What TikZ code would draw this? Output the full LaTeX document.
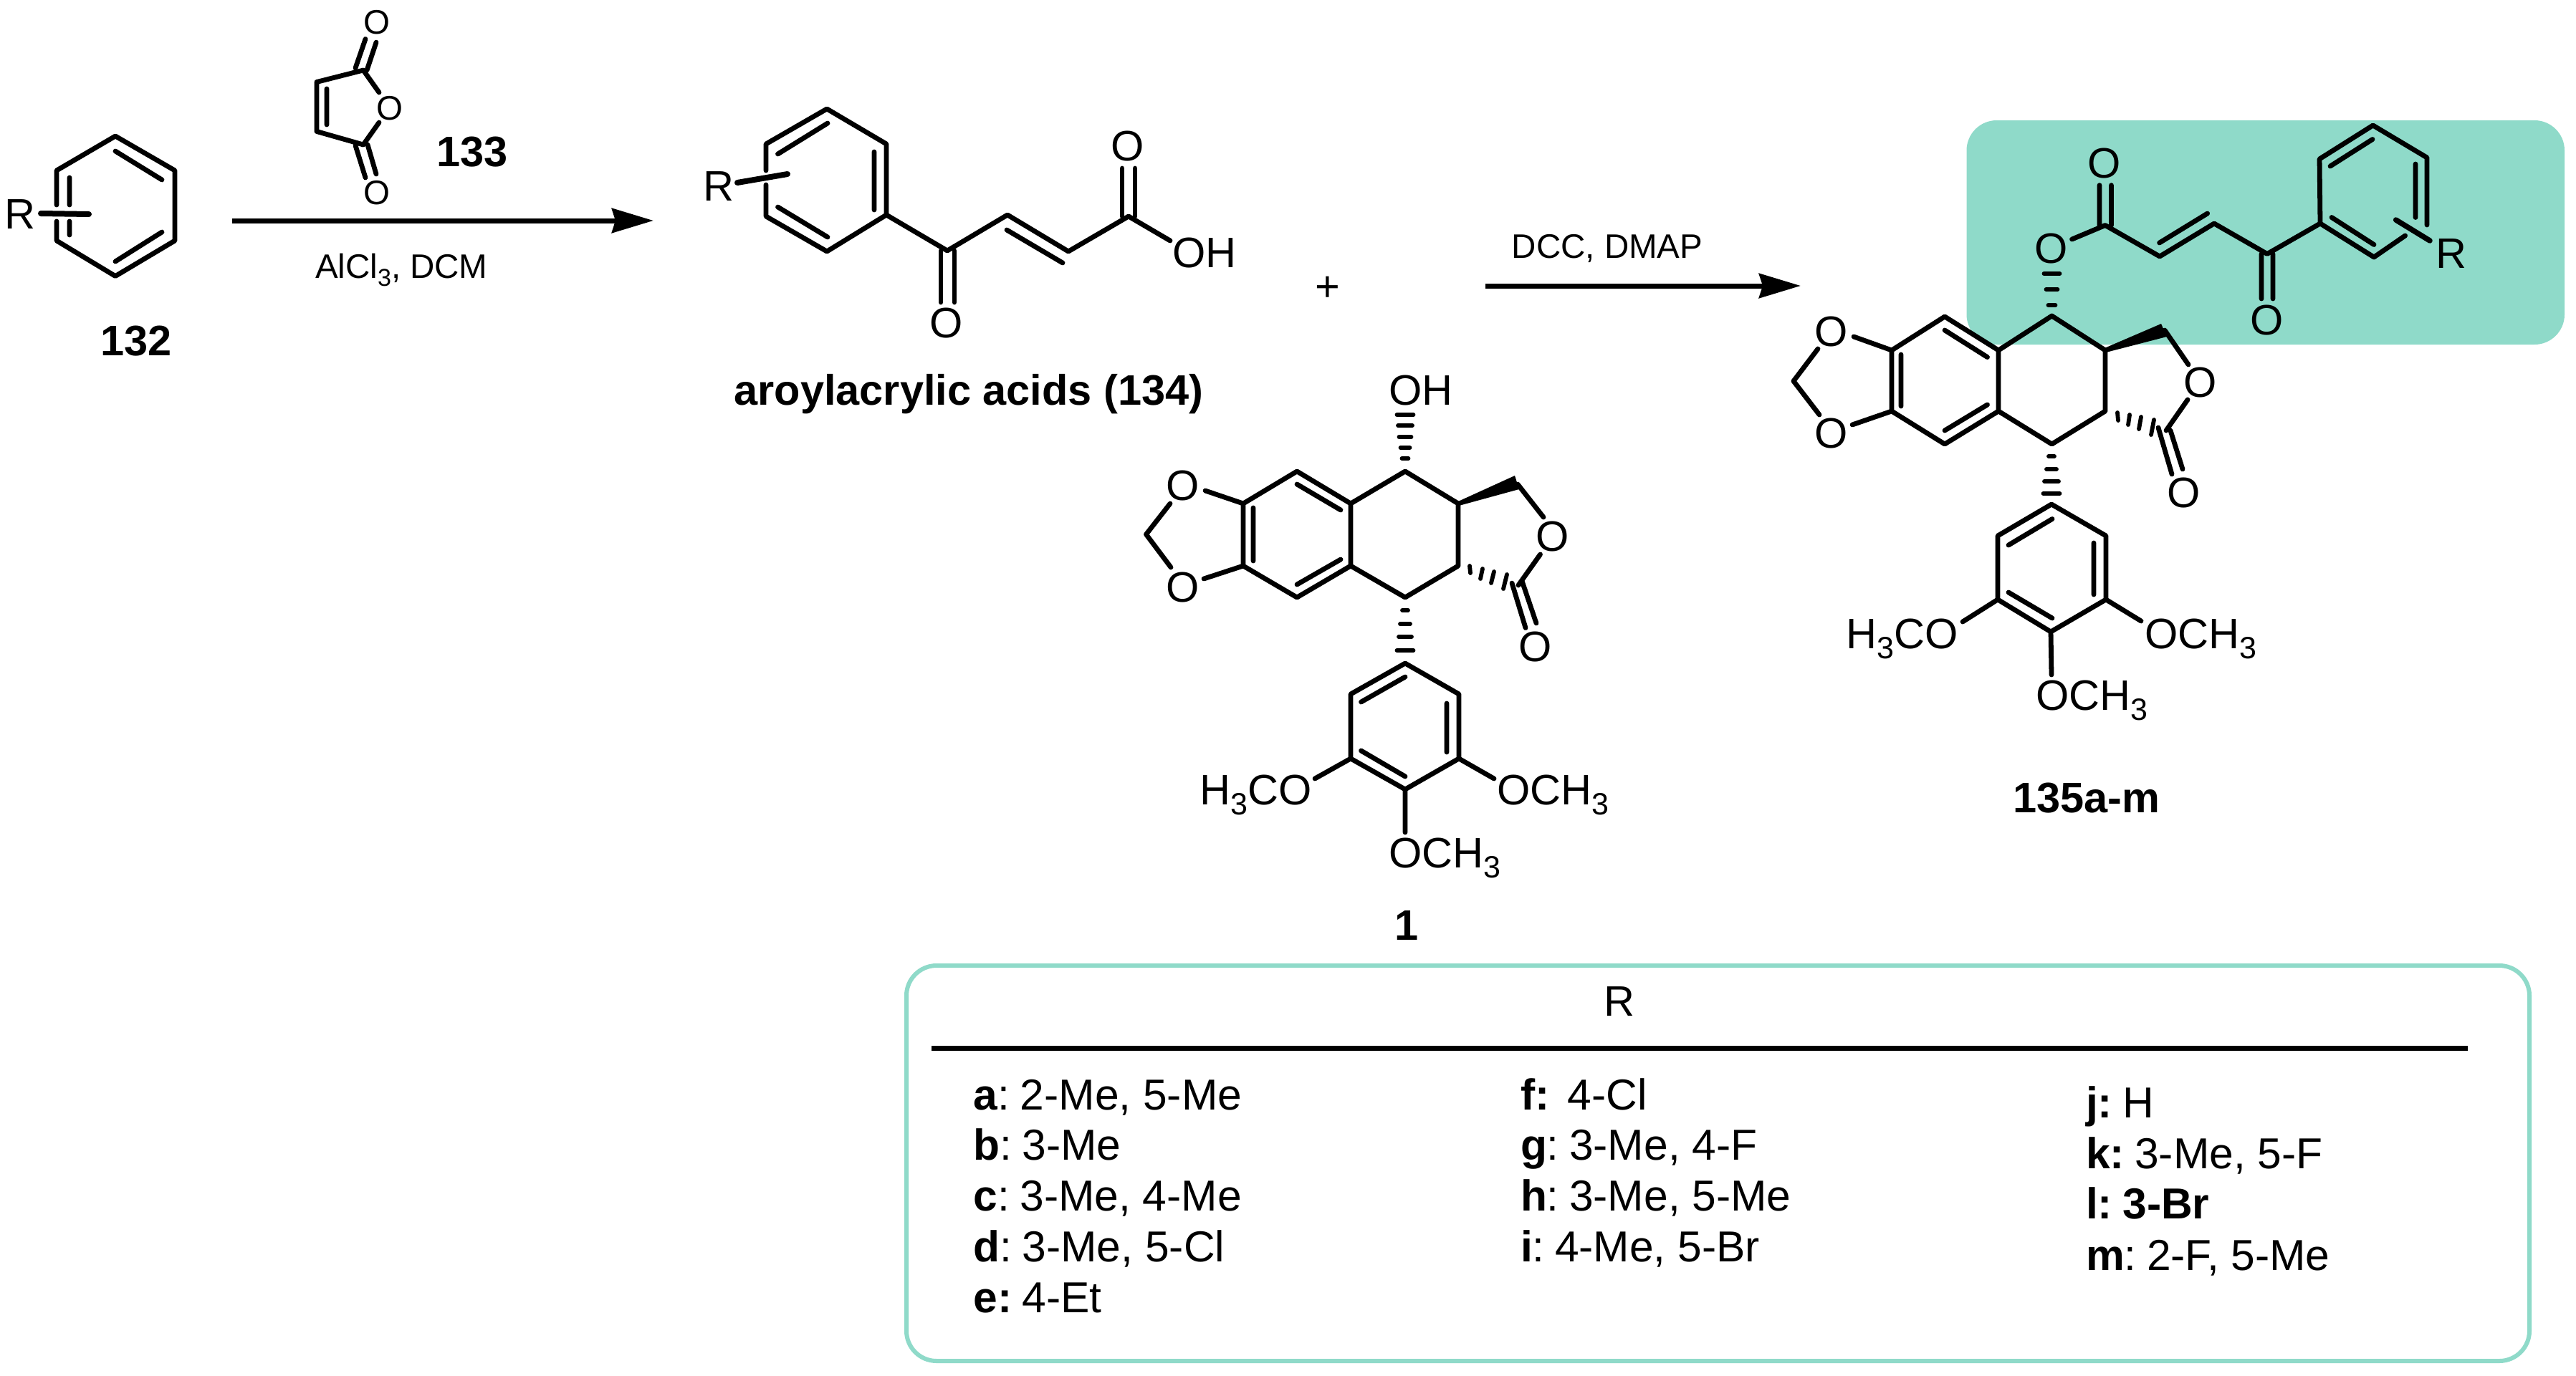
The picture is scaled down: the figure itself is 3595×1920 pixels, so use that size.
\documentclass[tikz,border=0pt]{standalone}
\usepackage{fontspec}
\setmainfont{Liberation Sans}
\usetikzlibrary{arrows.meta}
\definecolor{tealbox}{RGB}{143,218,201}
\newcommand\bigf{\fontsize{59.5}{60}\selectfont}
\newcommand\rowf{\fontsize{60.5}{62}\selectfont}
\newcommand\smallf{\fontsize{47.5}{50}\selectfont}
\newcommand\subB{\raisebox{-14pt}{\fontsize{43}{43}\selectfont 3}}
\newcommand\subS{\raisebox{-11pt}{\fontsize{34}{34}\selectfont 3}}
\newcommand\tg{\kern-8pt\relax}
\newcommand\pts[1]{\foreach \n/\x/\y in {#1}{\coordinate (\n) at (\x,\y);}}
\tikzset{
  bond/.style={line width=6.8pt,line cap=round,line join=round,black},
  hashline/.style={line width=5.8pt,line cap=round,black},
  rxn/.style={line width=7pt,black,-{Stealth[length=58pt,width=34pt,inset=5pt]}},
  lab/.style={inner sep=0pt,outer sep=0pt,font=\bigf,text=black},
  labs/.style={inner sep=0pt,outer sep=0pt,font=\smallf,text=black},
  labb/.style={inner sep=0pt,outer sep=0pt,font=\bigf\bfseries,text=black},
  row/.style={inner sep=0pt,outer sep=0pt,font=\rowf,text=black,anchor=base west},
}
\begin{document}
\begin{tikzpicture}[x=1pt,y=-1pt]
\useasboundingbox (0,0) rectangle (3595,1920);
\fill[white] (0,0) rectangle (3595,1920);
% highlight and table frame
\fill[tealbox,rounded corners=42pt] (2744.5,168) rectangle (3579,481);
\node[draw=tealbox,line width=6pt,rounded corners=42pt,inner sep=0pt,minimum width=2265pt,minimum height=552pt] (frame) at (2397.5,1624) {};

% ---------- 132
\pts{p1/161/190,p2/244/238,p3/244/336,p4/161/385.5,p5/79/336,p6/79/238,pa/79/286,pb/79/309,
 pi1/161/211,pi2/226/251,pi3/161/365,pi4/226/324,pi5/97/248,pi6/97/286,pi7/97/309,pi8/97/328,pr1/57/298,pr2/124/299}
\draw[bond] (pa)--(p6)--(p1)--(p2)--(p3)--(p4)--(p5)--(pb);
\draw[bond] (pi1)--(pi2) (pi3)--(pi4) (pi5)--(pi6) (pi7)--(pi8);
\draw[bond,line width=8pt] (pr1)--(pr2);
\node[lab] (R132) at (28,299) {R};
\node[labb] (n132) at (190,476) {132};

% ---------- 133
\pts{m1/507/98,m2/442/114.5,m3/442/183.5,m4/507/202,mi1/456/124,mi2/456/174,
 mt1/496/95,mt2/510/54.5,mt3/512/98,mt4/525/59,mb1/496/203,mb2/510/248,mb3/513/202,mb4/525/243,mo1/529/129,mo2/529/171}
\draw[bond] (mo1)--(m1)--(m2)--(m3)--(m4)--(mo2);
\draw[bond] (mi1)--(mi2) (mt1)--(mt2) (mt3)--(mt4) (mb1)--(mb2) (mb3)--(mb4);
\node[labs] (m133a) at (526,31) {O};
\node[labs] (m133b) at (544,151) {O};
\node[labs] (m133c) at (526,269) {O};
\node[labb] (n133) at (659,212) {133};

% ---------- arrow 1
\coordinate (A1s) at (324,308); \coordinate (A1e) at (912,308);
\draw[rxn] (A1s)--(A1e);
\node[labs,anchor=base west] (r1) at (440,388) {AlCl\subS, DCM};

% ---------- 134
\pts{a1/1154/152,a2/1237/201,a3/1237/300,a4/1154/351,a5/1069/302,a6/1069/201,a7/1069/238,a8/1069/258,
 ai1/1085.5/215,ai2/1155/172,ai3/1220/212,ai4/1220/293,ai5/1085.5/289,ai6/1155/331,
 ar1/1029/255,ar2/1099/243,c1/1322/350,c2/1406/300,c3/1491/351,c4/1575/302,oh/1633/336,
 ci1/1405/321,ci2/1483/367,co1/1313/350,co2/1313/422,co3/1332/350,co4/1332/422,
 cd1/1566/302,cd2/1566/235,cd3/1584/302,cd4/1584/235}
\draw[bond] (a7)--(a6)--(a1)--(a2)--(a3)--(a4)--(a5)--(a8);
\draw[bond] (ai1)--(ai2) (ai3)--(ai4) (ai5)--(ai6) (ci1)--(ci2);
\draw[bond,line width=8pt] (ar1)--(ar2);
\draw[bond] (a3)--(c1)--(c2)--(c3)--(c4)--(oh);
\draw[bond] (co1)--(co2) (co3)--(co4) (cd1)--(cd2) (cd3)--(cd4);
\node[lab] (R134) at (1003,260) {R};
\node[lab] (O134a) at (1321,451) {O};
\node[lab] (O134b) at (1574,204) {O};
\node[lab,anchor=base west] (OH134) at (1636,373) {OH};
\node[labb,anchor=base] (n134) at (1352,565) {aroylacrylic acids (134)};
\node[lab] (plus) at (1853,403) {+};

% ---------- arrow 2
\coordinate (A2s) at (2073,399); \coordinate (A2e) at (2513,399);
\draw[rxn] (A2s)--(A2e);
\node[labs] (r2) at (2243,347) {DCC, DMAP};

% ---------- 1
\pts{s1/1961/658,s2/2035/703,s3/2035/790,s4/1961/834,s5/1885/790,s6/1885/703,
 s7/1810/658,s8/1735/703,s9/1735/790,s10/1810/834,
 si1/1810/676,si2/1871/712,si3/1749/709,si4/1749/783,si5/1810/816,si6/1871/781,
 so1/1682/685,so2/1680/808,so3/1633/703,so4/1599.5/746,so5/1634/792,
 sc1/2118/676,sc2/2154/722,sc3/2149.5/774,sc4/2119/817,
 sd1/2110/814,sd2/2129/876.5,sd3/2124/811,sd4/2144/870,
 u1/1961/926,u2/2036/969,u3/2036/1059,u4/1961/1102,u5/1885/1059,u6/1885/969,
 ui1/1899.5/980,ui2/1961/945,ui3/2019/982,ui4/2019/1050,ui5/1899.5/1048,ui6/1961/1084,
 um1/1835/1087,um2/2085/1087,um3/1961/1162}
\draw[bond] (s1)--(s2)--(s3)--(s4)--(s5)--(s6)--cycle;
\draw[bond] (s6)--(s7)--(s8)--(s9)--(s10)--(s5);
\draw[bond] (si1)--(si2) (si3)--(si4) (si5)--(si6);
\draw[bond] (s8)--(so1) (s9)--(so2) (so3)--(so4)--(so5);
\draw[bond] (sc1)--(sc2) (sc3)--(sc4) (sd1)--(sd2) (sd3)--(sd4);
\fill[black] (2035,700)--(2114,664)--(2120,683)--(2036,706)--cycle;
\foreach \y/\w in {579/11.5,594/10,610/8.5,625/6.5,640/4.5}{\draw[hashline] (1961-\w,\y)--(1961+\w,\y);}
\foreach \y/\w in {852/4,871/7,889/9,908/11.5}{\draw[hashline] (1961-\w,\y)--(1961+\w,\y);}
\draw[hashline] (2051,790)--(2052,800);
\draw[hashline] (2069,794)--(2066,808);
\draw[hashline] (2085,798)--(2081,814);
\draw[hashline] (2103,802)--(2098,822);
\draw[bond] (u1)--(u2)--(u3)--(u4)--(u5)--(u6)--cycle;
\draw[bond] (ui1)--(ui2) (ui3)--(ui4) (ui5)--(ui6);
\draw[bond] (u5)--(um1) (u3)--(um2) (u4)--(um3);
\node[lab,anchor=base west] (OH1) at (1938,565) {OH};
\node[lab] (O1a) at (1651,678) {O};
\node[lab] (O1b) at (1651,820) {O};
\node[lab] (O1c) at (2167,749) {O};
\node[lab] (O1d) at (2143,903) {O};
\node[lab,anchor=base east] (M1a) at (1831,1123) {H\subB CO};
\node[lab,anchor=base west] (M1b) at (2089,1123) {OCH\subB};
\node[lab,anchor=base west] (M1c) at (1938,1211) {OCH\subB};
\node[labb] (n1) at (1963,1292) {1};

% ---------- 135
\pts{t1/2863.5/441,t2/2938/489,t3/2938/574,t4/2863.5/620,t5/2789/574,t6/2789/489,
 t7/2714/442,t8/2640/489,t9/2640/574,t10/2714/620,
 ti1/2714/461,ti2/2773.5/498.6,ti3/2653/495,ti4/2653/567,ti5/2714/601,ti6/2773.5/565,
 to1/2587/470,to2/2585/593,to3/2537/487,to4/2503/532,to5/2539/579,
 tc1/3021/461,tc2/3054/509,tc3/3053/558,tc4/3023/601,
 td1/3012/597,td2/3031/662,td3/3029/601,td4/3046/655,
 e1/2891.6/334,e2/2938/314.5,e3/3014/358,e4/3090/312,e5/3164/354.5,e6/3238/312,
 ei1/3013.6/339,ei2/3080.6/298,eo1/2930/314.5,eo2/2930/258.6,eo3/2946.5/314.5,eo4/2946.5/258.6,
 ek1/3156/354.5,ek2/3156/417,ek3/3172/354.5,ek4/3172/417,
 r2/3237/222,r3/3311.6/175,r4/3387/220,r5/3387/314,r6/3313/359,r7/3356.6/329,
 rb1/3343.6/307,rb2/3391/336,
 ri1/3252/232,ri2/3311/194.5,ri3/3371/229,ri4/3371/303.5,ri5/3254/303.5,ri6/3313/341.5,
 v1/2863/704,v2/2939/748,v3/2939/837,v4/2862/882,v5/2788/837,v6/2788/748,
 vi1/2803/761,vi2/2864/724.5,vi3/2922/758,vi4/2922/830,vi5/2803/827,vi6/2864/863,
 vm1/2739/868,vm2/2988/867,vm3/2863/942}
\draw[bond] (t1)--(t2)--(t3)--(t4)--(t5)--(t6)--cycle;
\draw[bond] (t6)--(t7)--(t8)--(t9)--(t10)--(t5);
\draw[bond] (ti1)--(ti2) (ti3)--(ti4) (ti5)--(ti6);
\draw[bond] (t8)--(to1) (t9)--(to2) (to3)--(to4)--(to5);
\draw[bond] (tc1)--(tc2) (tc3)--(tc4) (td1)--(td2) (td3)--(td4);
\fill[black] (2937,486)--(3016,452)--(3024,470)--(2939,492)--cycle;
\foreach \y/\w in {382/11,404/8,426/5}{\draw[hashline] (2863.5-\w,\y)--(2863.5+\w,\y);}
\foreach \y/\w in {637/4,655/7,672/10,689/11.5}{\draw[hashline] (2863-\w,\y)--(2863+\w,\y);}
\draw[hashline] (2955,576)--(2956,587);
\draw[hashline] (2972,579)--(2970,593);
\draw[hashline] (2988,582)--(2985,599);
\draw[hashline] (3006,586)--(3002,607);
\draw[bond] (e1)--(e2)--(e3)--(e4)--(e5)--(e6);
\draw[bond] (ei1)--(ei2) (eo1)--(eo2) (eo3)--(eo4) (ek1)--(ek2) (ek3)--(ek4);
\draw[bond] (r5)--(r4)--(r3)--(r2)--(e6)--(r6)--(r7);
\draw[bond] (ri1)--(ri2) (ri3)--(ri4) (ri5)--(ri6);
\draw[bond,line width=7.5pt] (rb1)--(rb2);
\draw[bond] (v1)--(v2)--(v3)--(v4)--(v5)--(v6)--cycle;
\draw[bond] (vi1)--(vi2) (vi3)--(vi4) (vi5)--(vi6);
\draw[bond] (v5)--(vm1) (v3)--(vm2) (v4)--(vm3);
\node[lab] (O5e) at (2862.6,347.5) {O};
\node[lab] (O5f) at (2937,228) {O};
\node[lab] (O5g) at (3164,447) {O};
\node[lab] (R135) at (3421,354.5) {R};
\node[lab] (O5a) at (2555.5,463) {O};
\node[lab] (O5b) at (2555.5,605) {O};
\node[lab] (O5c) at (3071,534) {O};
\node[lab] (O5d) at (3048,688) {O};
\node[lab,anchor=base east] (M5a) at (2733,905) {H\subB CO};
\node[lab,anchor=base west] (M5b) at (2993,905) {OCH\subB};
\node[lab,anchor=base west] (M5c) at (2841,991.5) {OCH\subB};
\node[labb,anchor=base] (n135) at (2912,1134.5) {135a-m};

% ---------- table
\node[lab] (Rhead) at (2260,1398) {R};
\coordinate (rule1) at (1300,1463); \coordinate (rule2) at (3444,1463);
\draw[line width=7pt,black] (rule1)--(rule2);
\node[row] (ra) at (1358.6,1549) {\textbf{a}:\tg{} 2-Me, 5-Me};
\node[row] (rb) at (1358.6,1619.5) {\textbf{b}:\tg{} 3-Me};
\node[row] (rc) at (1358.6,1690) {\textbf{c}:\tg{} 3-Me, 4-Me};
\node[row] (rd) at (1358.6,1761) {\textbf{d}:\tg{} 3-Me, 5-Cl};
\node[row] (re) at (1358.6,1832) {\textbf{e:}\tg{} 4-Et};
\node[row] (rf) at (2122,1549) {\textbf{f:}\tg\ \ 4-Cl};
\node[row] (rg) at (2122,1619.5) {\textbf{g}:\tg{} 3-Me, 4-F};
\node[row] (rh) at (2122,1690) {\textbf{h}:\tg{} 3-Me, 5-Me};
\node[row] (ri) at (2122,1761) {\textbf{i}:\tg{} 4-Me, 5-Br};
\node[row] (rj) at (2911,1560) {\textbf{j:}\tg{} H};
\node[row] (rk) at (2911,1631) {\textbf{k:}\tg{} 3-Me, 5-F};
\node[row] (rl) at (2911,1701) {\textbf{l:\tg{} 3-Br}};
\node[row] (rm) at (2911,1773) {\textbf{m}:\tg{} 2-F, 5-Me};
\end{tikzpicture}
\end{document}
